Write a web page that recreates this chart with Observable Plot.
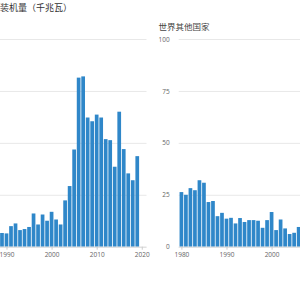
<!DOCTYPE html>
<html>
<head>
<meta charset="utf-8">
<script src="https://cdn.jsdelivr.net/npm/d3@7"></script>
<script src="https://cdn.jsdelivr.net/npm/@observablehq/plot@0.6"></script>
<style>
  html, body { margin: 0; padding: 0; background: #fff; }
  body { width: 300px; height: 300px; overflow: hidden; position: relative; }
  .panel { position: absolute; top: 0; width: 221px; height: 270px; }
  .panel svg { max-width: none !important; display: block; }
  #title { position: absolute; left: 0; top: 0; font: 9px 'Noto Sans CJK SC', sans-serif; color: #333; line-height: 16px; white-space: nowrap; }
</style>
</head>
<body>
<div id="left" class="panel" style="left:-62px"></div>
<div id="right" class="panel" style="left:158px"></div>
<div id="title"></div>
<script>
const years = [1980,1981,1982,1983,1984,1985,1986,1987,1988,1989,
               1990,1991,1992,1993,1994,1995,1996,1997,1998,1999,
               2000,2001,2002,2003,2004,2005,2006,2007,2008,2009,
               2010,2011,2012,2013,2014,2015,2016,2017,2018,2019];
const chinaValues = [3,3.5,3,4,4.5,5,6,6.5,6.6,6.6,
                     6.4,9.9,11.2,8,8.5,9.5,16,10.7,15.5,12.5,
                     16.8,13.1,10.7,22.3,29.2,46.8,81.4,82,62.2,60.4,
                     63.6,62.2,51.8,51.3,38.5,65,47,35.3,32,43.6];
const restValues = [26.3,25,28.2,27.2,32,30.8,21.5,22,14.7,16.3,
                    13.5,13.9,11.2,13.8,11.9,12.8,12.8,12.5,9.1,12.8,
                    16.7,8,13.1,8.8,6.1,6.7,9.5,12,15,18,
                    25,22,28,25,22,28,23,20,18,20];
const yTicks = [0, 25, 50, 75, 100];
const xTicksLeft = [1990, 2000, 2010, 2020];
const xTicksRight = [1980, 1990, 2000];
const chartTitle = "装机量（千兆瓦）";
const rightTitle = "世界其他国家";

document.getElementById("title").textContent = chartTitle;

const ML = 20.7;
function panel(values, xTicks, showY, title) {
  const data = years.map((year, i) => ({year, value: values[i]}));
  const marks = [
    Plot.gridY(yTicks, {stroke: "#e8e8e8", strokeOpacity: 1}),
    Plot.rectY(data, {x1: d => d.year - 0.5, x2: d => d.year + 0.5, y: "value",
                      fill: "#2f87c9", insetLeft: 0.4, insetRight: 0.4}),
    Plot.ruleY([0], {stroke: "#dddddd"}),
    Plot.axisX({ticks: xTicks, tickFormat: d => String(d), tickSize: 3, tickPadding: 2,
                stroke: "#cccccc", fill: "#666", label: null})
  ];
  if (showY) {
    marks.push(Plot.axisY({ticks: yTicks, tickSize: 0, tickPadding: 9.5, fill: "#666", label: null}));
  }
  if (title) {
    marks.push(Plot.text([title], {frameAnchor: "top-left", dx: -ML, dy: -10, lineAnchor: "bottom",
                        fontSize: 8.5, fill: "#444", fontFamily: "'Noto Sans CJK SC', sans-serif"}));
  }
  return Plot.plot({
    width: 221, height: 270,
    marginLeft: ML, marginRight: 12.5, marginTop: 39, marginBottom: 23.3,
    x: {domain: [1979.4, 2021.05]},
    y: {domain: [0, 100], axis: null},
    style: {fontFamily: "'Open Sans', sans-serif", fontSize: "6.5px", color: "#666",
            background: "transparent", overflow: "visible"},
    marks
  });
}
document.getElementById("left").append(panel(chinaValues, xTicksLeft, false, null));
document.getElementById("right").append(panel(restValues, xTicksRight, true, rightTitle));
</script>
</body>
</html>
